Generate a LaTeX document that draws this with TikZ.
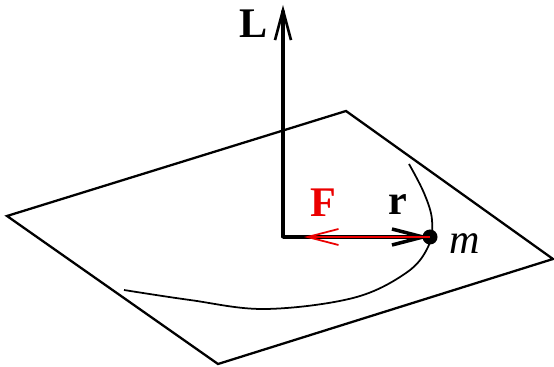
\documentclass[tikz,border=0pt]{standalone}
\usepackage{fontspec}
\setmainfont{Liberation Serif}
\usetikzlibrary{arrows.meta}
\usetikzlibrary{positioning}
\definecolor{red}{RGB}{235,0,0}

\begin{document}
\begin{tikzpicture}[x=0.02cm,y=-0.02cm,
    lbl/.style={font=\fontsize{24}{28}\selectfont},
    vec/.style={line width=1.8pt, line cap=round},
    barb/.style={-{Straight Barb[length=0.6cm,width=0.32cm,line width=1.5pt]}}]

%---------------------------------------
% Frame (image pixels, y down)
%---------------------------------------
\useasboundingbox (0,0) rectangle (554,367);

% Orbit plane
\draw[line width=1.3pt, line join=miter]
    (7,216) -- (346,111) -- (553,259) -- (218,364) -- cycle;

% Orbit
\draw[line width=1pt] plot[smooth, tension=0.6] coordinates {
    (124,290) (190,300) (265,309) (353,298) (406,273)
    (428,247) (432,220) (424,193) (409,164)};

%---------------------------------------
% Points
%---------------------------------------
\coordinate (O) at (283,237);
\coordinate (Ltop) at (283,5);
\coordinate (Ftip) at (304,237);
\node[circle, fill=black, inner sep=0pt, minimum size=0.3cm] (m) at (430,237) {};

% Angular momentum
\draw[vec, barb] (O) -- (Ltop);
% Position vector
\draw[vec, line cap=butt, -{Straight Barb[length=0.62cm,width=0.32cm,line width=2pt]}]
    (O) -- (m.center);
% Force
\draw[red, line width=1pt,
      -{Straight Barb[length=0.62cm,width=0.32cm,line width=1pt]}]
    (m.center) -- (Ftip);

%---------------------------------------
% Labels
%---------------------------------------
\node[lbl] (Llab) at (254,24) {\textbf{L}};
\node[lbl, red] (Flab) at (323,203) {\textbf{F}};
\node[lbl] (rlab) at (398,205) {\textbf{r}};
\node[lbl] (mlab) at (465,244) {\textit{m}};

\end{tikzpicture}
\end{document}
